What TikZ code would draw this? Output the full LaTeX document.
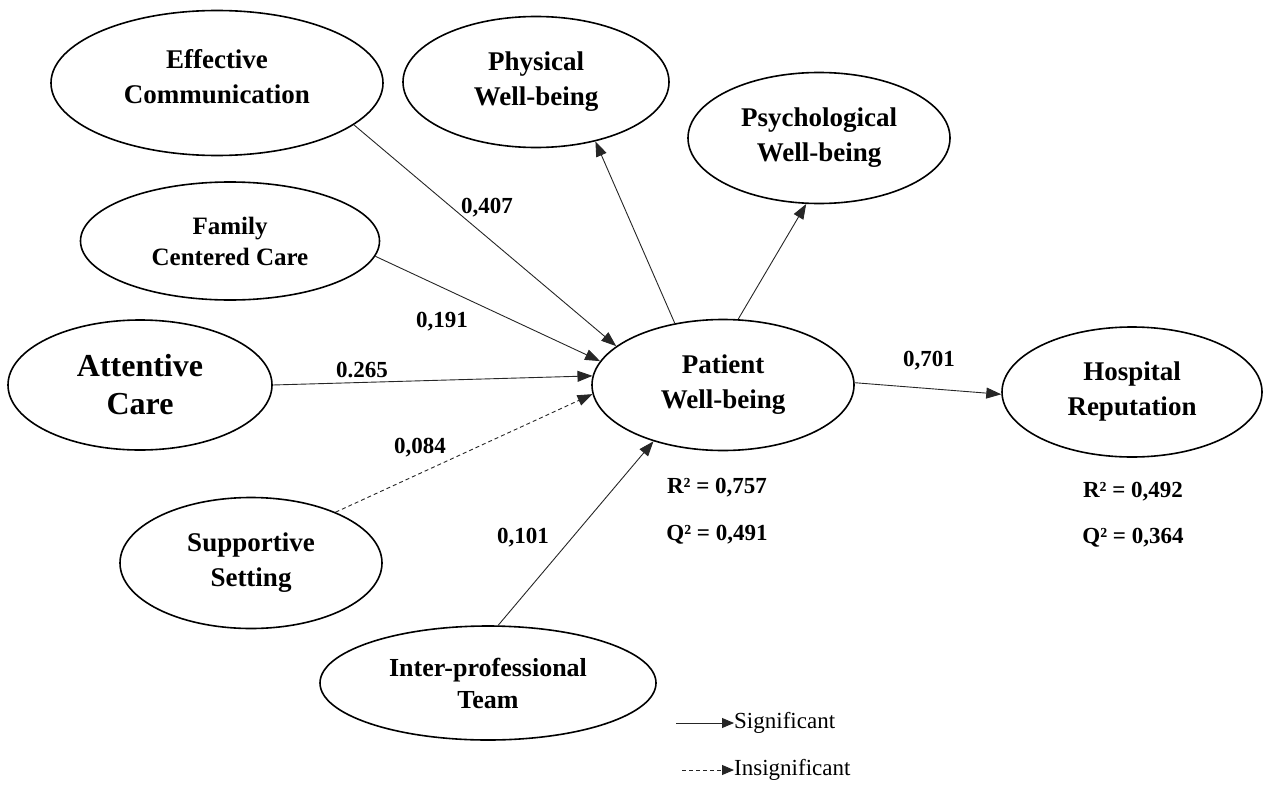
\documentclass[tikz,border=0pt]{standalone}
\usepackage{fontspec}
\setmainfont{Liberation Serif}
\usetikzlibrary{arrows.meta,shapes.geometric}
\begin{document}
\begin{tikzpicture}[x=1pt,y=-1pt,
  latent/.style={ellipse,draw,line width=1.6pt,inner sep=0pt,align=center,font=\bfseries\fontsize{27}{35}\selectfont},
  pathsig/.style={line width=0.9pt,draw=black!85,-{Triangle[length=15pt,width=11pt]}},
  pathins/.style={pathsig,dash pattern=on 4pt off 3pt},
  coef/.style={font=\bfseries\fontsize{23}{27}\selectfont},
  legtext/.style={font=\fontsize{23}{27}\selectfont,anchor=west,inner sep=0pt}]
\useasboundingbox (0,0) rectangle (1268,784);

\node[latent,minimum width=332pt,minimum height=145pt,text depth=14pt] (ec) at (217,83) {Effective\\Communication};
\node[latent,minimum width=266pt,minimum height=131pt] (phy) at (536,82) {Physical\\Well-being};
\node[latent,minimum width=262pt,minimum height=131pt] (psy) at (819,138) {Psychological\\Well-being};
\node[latent,minimum width=299pt,minimum height=118pt,font=\bfseries\fontsize{25}{31}\selectfont] (fcc) at (230,241) {Family\\Centered Care};
\node[latent,minimum width=264pt,minimum height=130pt,font=\bfseries\fontsize{32}{38}\selectfont] (ac) at (140,385) {Attentive\\Care};
\node[latent,minimum width=262pt,minimum height=131pt] (pw) at (723,385) {Patient\\Well-being};
\node[latent,minimum width=260pt,minimum height=130pt] (hr) at (1132,392) {Hospital\\Reputation};
\node[latent,minimum width=262pt,minimum height=131pt] (ss) at (251,563) {Supportive\\Setting};
\node[latent,minimum width=336pt,minimum height=114pt,font=\bfseries\fontsize{26}{32}\selectfont] (ipt) at (488,683) {Inter-professional\\Team};

\draw[pathsig] (ec.-17.7) -- (pw.160);
\draw[pathsig] (fcc.-6.8) -- (pw.169);
\draw[pathsig] (ac.0.9) -- (pw.176.6);
\draw[pathins] (ss.31) -- (pw.184);
\draw[pathsig] (ipt.80) -- (pw.219);
\draw[pathsig] (pw.128) -- (phy.-45.5);
\draw[pathsig] (pw.77) -- (psy.-101.6);
\draw[pathsig] (pw.1.3) -- (hr.181);

\node[coef] (c1) at (487,208) {0,407};
\node[coef] (c2) at (442,322) {0,191};
\node[coef] (c3) at (362,370) {0.265};
\node[coef] (c4) at (420,448) {0,084};
\node[coef] (c5) at (523,538) {0,101};
\node[coef] (c6) at (929,361) {0,701};

\node[coef] (r1) at (717,488) {R² = 0,757};
\node[coef] (q1) at (717,535) {Q² = 0,491};
\node[coef] (r2) at (1133,492) {R² = 0,492};
\node[coef] (q2) at (1133,538) {Q² = 0,364};

\coordinate (s1) at (676,723);
\node[legtext] (sig) at (734,723) {Significant};
\draw[pathsig,-{Triangle[length=12pt,width=10pt]}] (s1) -- (sig.west);
\coordinate (i1) at (682,770);
\node[legtext] (ins) at (734,770) {Insignificant};
\draw[pathins,-{Triangle[length=12pt,width=10pt]}] (i1) -- (ins.west);
\end{tikzpicture}
\end{document}
